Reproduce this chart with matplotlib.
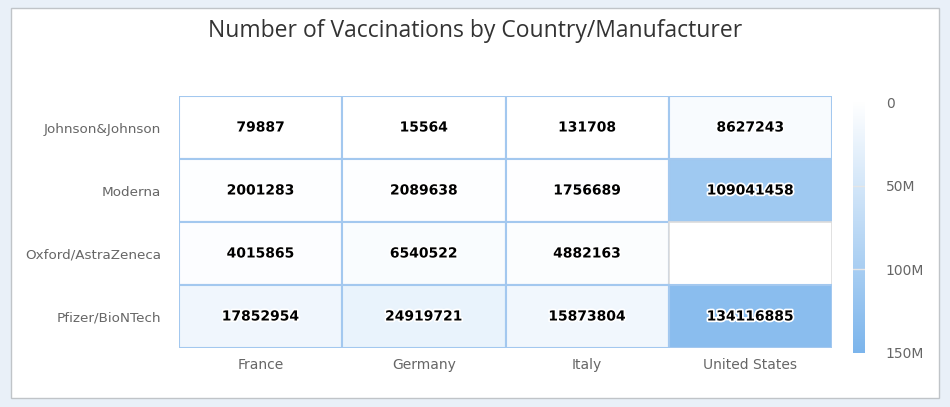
import numpy as np
import matplotlib.pyplot as plt
import matplotlib.patheffects as pe
from matplotlib.colors import LinearSegmentedColormap, Normalize
from matplotlib.patches import Rectangle

# Data
countries = ['France', 'Germany', 'Italy', 'United States']
manufacturers = ['Johnson&Johnson', 'Moderna', 'Oxford/AstraZeneca', 'Pfizer/BioNTech']
jj = [79887, 15564, 131708, 8627243]
moderna = [2001283, 2089638, 1756689, 109041458]
astra = [4015865, 6540522, 4882163, None]
pfizer = [17852954, 24919721, 15873804, 134116885]
cbar_ticks = [0, 50e6, 100e6, 150e6]
cbar_labels = ['0', '50M', '100M', '150M']

rows = [jj, moderna, astra, pfizer]

cmap = LinearSegmentedColormap.from_list('hc', ['#ffffff', '#7cb5ec'])
norm = Normalize(0, 150e6)

fig = plt.figure(figsize=(9.5, 4.07), dpi=100)
fig.patch.set_facecolor('#e9f0f8')
# white panel with grey border
fig.patches.append(Rectangle((11 / 950, 9 / 407), 928 / 950, 390 / 407,
                             transform=fig.transFigure, facecolor='white',
                             edgecolor='#c0c4c8', linewidth=1, zorder=-5))

fig.text(0.5, 1 - 31 / 407, 'Number of Vaccinations by Country/Manufacturer',
         ha='center', va='center', fontsize=16.5, color='#333333', family='Open Sans')

ax = fig.add_axes([179 / 950, 59 / 407, 653 / 950, 252 / 407])
ax.set_facecolor('none')
for i, row in enumerate(rows):
    for j, v in enumerate(row):
        if v is None:
            ax.add_patch(Rectangle((j, i), 1, 1, facecolor='white',
                                   edgecolor='#dcdcdc', linewidth=1.2))
            continue
        ax.add_patch(Rectangle((j, i), 1, 1, facecolor=cmap(norm(v)),
                               edgecolor='#a3c8ef', linewidth=1.5))
        ax.text(j + 0.5, i + 0.5, str(v), ha='center', va='center',
                fontsize=10, fontweight='bold', color='black',
                path_effects=[pe.withStroke(linewidth=2.5, foreground='white')])
ax.set_xlim(0, 4)
ax.set_ylim(4, 0)
ax.set_xticks(np.arange(4) + 0.5)
ax.set_xticklabels(countries, fontsize=10, color='#666666')
ax.set_yticks(np.arange(4) + 0.5)
ax.set_yticklabels(manufacturers, fontsize=9.7, color='#666666')
ax.tick_params(axis='x', length=0, pad=7)
ax.tick_params(axis='y', length=0, pad=13)
for s in ax.spines.values():
    s.set_visible(False)

cax = fig.add_axes([853 / 950, 54 / 407, 12 / 950, 251 / 407])
grad = np.linspace(0, 150e6, 256).reshape(-1, 1)
cax.imshow(grad, aspect='auto', cmap=cmap, norm=norm,
           extent=[0, 1, 150e6, 0])
for t in cbar_ticks[1:-1]:
    cax.axhline(t, color='#e6e6e6', linewidth=1)
cax.set_ylim(150e6, 0)
cax.set_xticks([])
cax.yaxis.tick_right()
cax.set_yticks(cbar_ticks)
cax.set_yticklabels(cbar_labels, fontsize=10, color='#666666')
cax.tick_params(length=0, pad=15)
for s in cax.spines.values():
    s.set_visible(False)

fig.savefig('out.png', dpi=100)
